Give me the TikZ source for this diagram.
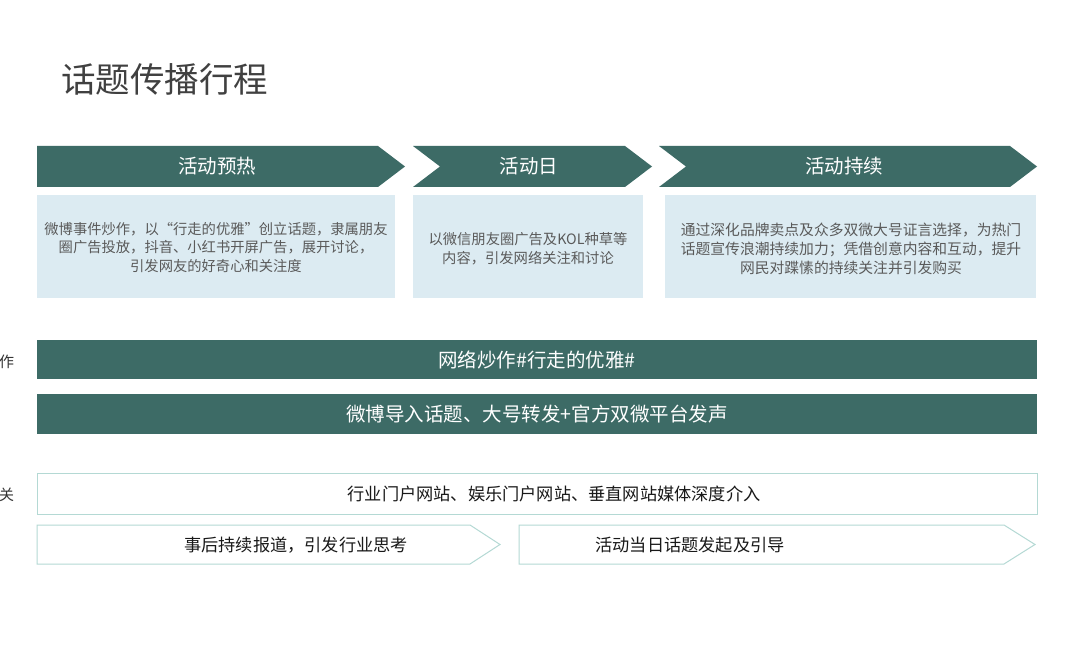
\documentclass[tikz,border=0pt]{standalone}
\usepackage{fontspec}
\setmainfont{Noto Sans CJK SC}
\definecolor{teal1}{HTML}{3D6B66}
\definecolor{lightbox}{HTML}{DCEBF2}
\definecolor{boxtext}{HTML}{5A5A5A}
\definecolor{outl}{HTML}{B4D9D4}
\definecolor{titlec}{HTML}{404040}
\tikzset{
  hdrtext/.style={text=white,font=\fontsize{19.5}{22}\selectfont},
  bodytext/.style={text=boxtext,align=center,font=\fontsize{14.3}{18.6}\selectfont},
  bartext/.style={text=white,font=\fontsize{19.5}{22}\selectfont},
  outtext/.style={text=black!90,font=\fontsize{17.2}{20}\selectfont},
  darkshape/.style={fill=teal1,draw=none},
  lightbox/.style={fill=lightbox,draw=none},
  outshape/.style={draw=outl,line width=1pt,fill=white},
  sidelabel/.style={text=black!80,font=\fontsize{15}{18}\selectfont,anchor=west,inner sep=0pt}
}
\begin{document}
\begin{tikzpicture}[x=1pt,y=-1pt]
\useasboundingbox[fill=white] (0,0) rectangle (1080,668);
% title
\node[anchor=west,inner sep=0pt,text=titlec,font=\fontsize{34.5}{40}\selectfont] (title) at (61,79) {话题传播行程};
% header arrows
\fill[darkshape] (37,146) -- (378,146) -- (405,166.5) -- (378,187) -- (37,187) -- cycle;
\fill[darkshape] (413,146) -- (625,146) -- (652,166.5) -- (625,187) -- (413,187) -- (440,166.5) -- cycle;
\fill[darkshape] (659,146) -- (1010,146) -- (1037,166.5) -- (1010,187) -- (659,187) -- (686,166.5) -- cycle;
\node[hdrtext] (h1) at (217,166.5) {活动预热};
\node[hdrtext] (h2) at (529,166.5) {活动日};
\node[hdrtext] (h3) at (844,166.5) {活动持续};
% light boxes
\fill[lightbox] (37,195) rectangle (395,298);
\fill[lightbox] (413,195) rectangle (643,298);
\fill[lightbox] (665,195) rectangle (1036,298);
\node[bodytext] (b1) at (216,247.5) {微博事件炒作，以“行走的优雅”创立话题，隶属朋友\\圈广告投放，抖音、小红书开屏广告，展开讨论，\\引发网友的好奇心和关注度};
\node[bodytext] (b2) at (528,248.5) {以微信朋友圈广告及KOL种草等\\内容，引发网络关注和讨论};
\node[bodytext,font=\fontsize{14.8}{18.8}\selectfont] (b3) at (851,249) {通过深化品牌卖点及众多双微大号证言选择，为热门\\话题宣传浪潮持续加力；凭借创意内容和互动，提升\\网民对蹀愫的持续关注并引发购买};
% side labels (cut off)
\node[sidelabel] (s1) at (-1,362) {作};
\node[sidelabel] (s2) at (-1,495) {关};
% dark bars
\fill[darkshape] (37,340) rectangle (1037,379);
\fill[darkshape] (37,394) rectangle (1037,434);
\node[bartext] (r1) at (537,360) {网络炒作\#行走的优雅\#};
\node[bartext] (r2) at (537,414) {微博导入话题、大号转发+官方双微平台发声};
% outlined bar
\draw[outshape] (37,474) rectangle (1037,514);
\node[outtext] (r3) at (554,494) {行业门户网站、娱乐门户网站、垂直网站媒体深度介入};
% outlined chevrons
\draw[outshape] (37,525) -- (470,525) -- (500,544.5) -- (470,564) -- (37,564) -- cycle;
\draw[outshape] (519,525) -- (1004,525) -- (1035,544.5) -- (1004,564) -- (519,564) -- cycle;
\node[outtext] (c1) at (296,545) {事后持续报道，引发行业思考};
\node[outtext] (c2) at (690,545) {活动当日话题发起及引导};
\end{tikzpicture}
\end{document}
